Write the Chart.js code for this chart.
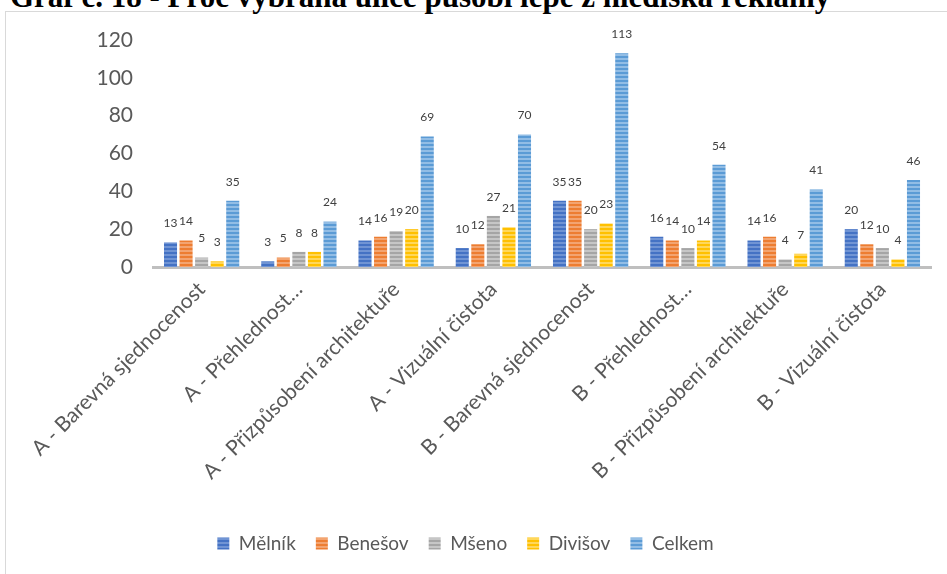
<!DOCTYPE html>
<html>
<head>
<meta charset="utf-8">
<script src="https://cdn.jsdelivr.net/npm/chart.js@4.4.0/dist/chart.umd.min.js"></script>
<style>
  html, body { margin: 0; padding: 0; background: #fff; overflow: hidden; }
  #title {
    position: absolute; left: 10px; top: -19px; white-space: nowrap;
    font-family: "Liberation Serif", serif; font-weight: bold; font-size: 31px; line-height: 31px; color: #000;
  }
  #frame {
    position: absolute; left: 5px; top: 11px; width: 960px; height: 600px;
    border: 1px solid #d9d9d9; background: #fff;
  }
  #wrap { position: absolute; left: 0; top: 0; width: 947px; height: 574px; }
</style>
</head>
<body>
<div id="frame"></div>
<div id="title">Graf č. 18 - Proč vybraná ulice působí lépe z hlediska reklamy</div>
<div id="wrap"><canvas id="chart" width="947" height="574"></canvas></div>
<script>
var categories = [
    "A - Barevná sjednocenost",
    "A - Přehlednost…",
    "A - Přizpůsobení architektuře",
    "A - Vizuální čistota",
    "B - Barevná sjednocenost",
    "B - Přehlednost…",
    "B - Přizpůsobení architektuře",
    "B - Vizuální čistota"
];
var melnik = [13, 3, 14, 10, 35, 16, 14, 20];
var benesov = [14, 5, 16, 12, 35, 14, 16, 12];
var mseno = [5, 8, 19, 27, 20, 10, 4, 10];
var divisov = [3, 8, 20, 21, 23, 14, 7, 4];
var celkem = [35, 24, 69, 70, 113, 54, 41, 46];
var yTicks = [0, 20, 40, 60, 80, 100, 120];

var FONT = "Lato, 'Noto Sans', sans-serif";

function makeStripes(dark, light) {
    var c = document.createElement('canvas');
    c.width = 4;
    c.height = 4;
    var g = c.getContext('2d');
    g.fillStyle = dark;
    g.fillRect(0, 0, 4, 4);
    g.fillStyle = light;
    g.fillRect(0, 2, 4, 2);
    return g.createPattern(c, 'repeat');
}

var ctx = document.getElementById('chart').getContext('2d');

// numbers above each bar
var barLabels = {
    id: 'barLabels',
    afterDatasetsDraw: function (chart) {
        var c = chart.ctx;
        c.save();
        c.font = "12px " + FONT;
        c.fillStyle = '#404040';
        c.textAlign = 'center';
        c.textBaseline = 'middle';
        chart.data.datasets.forEach(function (ds, i) {
            var meta = chart.getDatasetMeta(i);
            meta.data.forEach(function (bar, j) {
                c.fillText(String(ds.data[j]), bar.x, bar.y - 19);
            });
        });
        c.restore();
    }
};

var data = {
    type: 'bar',
    data: {
        labels: categories,
        datasets: [
            { label: 'Mělník', data: melnik, backgroundColor: makeStripes('#4472C4', '#7094D4') },
            { label: 'Benešov', data: benesov, backgroundColor: makeStripes('#ED7D31', '#F3A470') },
            { label: 'Mšeno', data: mseno, backgroundColor: makeStripes('#A5A5A5', '#C6C6C6') },
            { label: 'Divišov', data: divisov, backgroundColor: makeStripes('#FFC000', '#FFD75A') },
            { label: 'Celkem', data: celkem, backgroundColor: makeStripes('#5B9BD5', '#92BDE5') }
        ]
    },
    options: {
        responsive: false,
        animation: false,
        categoryPercentage: 0.8,
        barPercentage: 0.84,
        layout: { padding: { top: 40, left: 0, right: 16, bottom: 11 } },
        plugins: {
            legend: {
                position: 'bottom',
                labels: {
                    boxWidth: 12,
                    boxHeight: 12,
                    padding: 20,
                    color: '#595959',
                    font: { family: FONT, size: 19 }
                }
            },
            tooltip: { enabled: false }
        },
        scales: {
            x: {
                grid: { display: false },
                border: { display: true, color: '#bfbfbf', width: 3 },
                ticks: {
                    color: '#595959',
                    font: { family: FONT, size: 21 },
                    minRotation: 45,
                    maxRotation: 45,
                    padding: 2
                },
                afterFit: function (scale) {
                    scale.height = 247;
                    scale.paddingLeft = 0;
                    scale.paddingRight = 0;
                }
            },
            y: {
                min: 0,
                max: 120,
                grid: { display: false },
                border: { display: false },
                ticks: {
                    color: '#595959',
                    font: { family: FONT, size: 21 },
                    padding: 12,
                    stepSize: 20
                },
                afterBuildTicks: function (scale) {
                    scale.ticks = yTicks.map(function (v) { return { value: v }; });
                },
                afterFit: function (scale) {
                    scale.width = 153;
                }
            }
        }
    },
    plugins: [barLabels]
};

var mychart = new Chart(ctx, data);
</script>
</body>
</html>
